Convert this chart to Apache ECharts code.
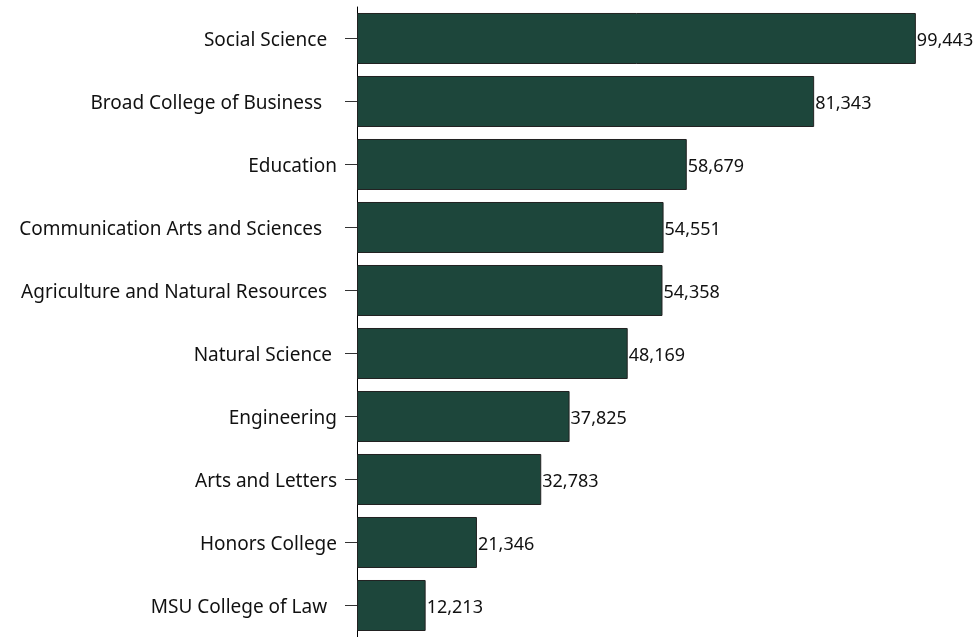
<!DOCTYPE html>
<html><head><meta charset="utf-8">
<script src="https://cdn.jsdelivr.net/npm/echarts@6/dist/echarts.min.js"></script>
<style>html,body{margin:0;padding:0;background:#fff}#c{width:976px;height:637px}</style>
</head><body><div id="c"></div>
<script>
const categories = ["Social Science  ", "Broad College of Business   ", "Education", "Communication Arts and Sciences   ", "Agriculture and Natural Resources  ", "Natural Science ", "Engineering", "Arts and Letters", "Honors College", "MSU College of Law  "];
const enrollment = [99443, 81343, 58679, 54551, 54358, 48169, 37825, 32783, 21346, 12213];

const chart = echarts.init(document.getElementById('c'));
chart.setOption({
  animation: false,
  grid: {left: 357, right: 57, top: 7, bottom: -3, containLabel: false},
  xAxis: {type: 'value', min: 0, max: 100000, show: false},
  yAxis: {
    type: 'category', inverse: true, data: categories,
    axisLine: {show: true, lineStyle: {color: '#000', width: 1}},
    axisTick: {show: true, alignWithLabel: true, length: 12, lineStyle: {color: '#333'}},
    axisLabel: {color: '#111', fontSize: 19, fontFamily: 'Noto Sans', margin: 20,
      formatter: v => '{a|' + v + '}',
      rich: {a: {color: '#111', fontSize: 19, fontFamily: 'Noto Sans', padding: [4, 0, 0, 0]}}}
  },
  series: [{
    type: 'bar', data: enrollment, barCategoryGap: '19%',
    itemStyle: {color: '#1d463b', borderColor: '#222', borderWidth: 1},
    label: {show: true, position: 'right', distance: 1, offset: [0, 2], color: '#111', fontSize: 18, fontFamily: 'Noto Sans',
      formatter: p => p.value.toLocaleString('en-US')}
  }]
});
</script></body></html>
